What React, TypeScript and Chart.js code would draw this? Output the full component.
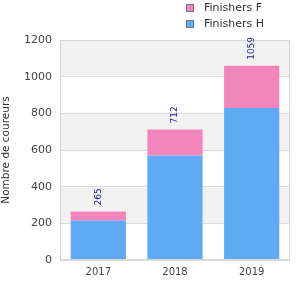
import React, { useEffect, useRef } from "react";
import { Chart, registerables } from "chart.js";

Chart.register(...registerables);

const categories = ["2017", "2018", "2019"];
const finishersH = [215, 570, 829];
const finishersF = [50, 142, 230];
const yTicks = [0, 200, 400, 600, 800, 1000, 1200];
const seriesNames = ["Finishers H", "Finishers F"];

const BLUE = "#60a9f5";
const PINK = "#f285bc";

export default function App() {
  const ref = useRef<HTMLCanvasElement | null>(null);

  useEffect(() => {
    if (!ref.current) return;
    const bandsPlugin = {
      id: "bands",
      beforeDraw(chart: any) {
        const { ctx, chartArea } = chart;
        const y = chart.scales.y;
        ctx.save();
        ctx.fillStyle = "#ffffff";
        ctx.fillRect(chartArea.left, chartArea.top, chartArea.right - chartArea.left, chartArea.bottom - chartArea.top);
        ctx.fillStyle = "#f2f2f2";
        for (let i = 1; i < yTicks.length - 1; i += 2) {
          const top = y.getPixelForValue(yTicks[i + 1]);
          const bottom = y.getPixelForValue(yTicks[i]);
          ctx.fillRect(chartArea.left, top, chartArea.right - chartArea.left, bottom - top);
        }
        ctx.restore();
      },
      afterDatasetsDraw(chart: any) {
        const { ctx, chartArea } = chart;
        ctx.save();
        ctx.strokeStyle = "#d6d6d6";
        ctx.lineWidth = 1;
        ctx.strokeRect(chartArea.left + 0.5, chartArea.top + 0.5, chartArea.right - chartArea.left - 1, chartArea.bottom - chartArea.top - 1);
        const meta = chart.getDatasetMeta(chart.data.datasets.length - 1);
        ctx.fillStyle = "#1c1c8f";
        ctx.font = "9px 'DejaVu Sans'";
        ctx.textAlign = "left";
        ctx.textBaseline = "middle";
        categories.forEach((_, i) => {
          const total = finishersH[i] + finishersF[i];
          const bar = meta.data[i];
          const yy = chart.scales.y.getPixelForValue(total);
          ctx.save();
          ctx.translate(bar.x, yy - 6);
          ctx.rotate(-Math.PI / 2);
          ctx.fillText(String(total), 0, 0);
          ctx.restore();
        });
        ctx.restore();
      },
      afterDraw(chart: any) {
        const { ctx } = chart;
        ctx.save();
        const items = [
          { label: seriesNames[1], color: PINK },
          { label: seriesNames[0], color: BLUE },
        ];
        ctx.font = "11px 'DejaVu Sans'";
        ctx.textBaseline = "middle";
        ctx.textAlign = "left";
        items.forEach((it, k) => {
          const cy = 8 + k * 16;
          ctx.fillStyle = it.color;
          ctx.fillRect(186, cy - 4, 8, 8);
          ctx.strokeStyle = "#777777";
          ctx.lineWidth = 1;
          ctx.strokeRect(186.5, cy - 3.5, 7, 7);
          ctx.fillStyle = "#333333";
          ctx.fillText(it.label, 204, cy);
        });
        ctx.restore();
      },
    };

    const chart = new Chart(ref.current, {
      type: "bar",
      data: {
        labels: categories,
        datasets: [
          { label: seriesNames[0], data: finishersH, backgroundColor: BLUE, borderWidth: 0 },
          { label: seriesNames[1], data: finishersF, backgroundColor: PINK, borderWidth: 0 },
        ],
      },
      options: {
        animation: false,
        responsive: false,
        layout: { padding: { left: 0, right: 10, top: 40, bottom: 0 } },
        plugins: { legend: { display: false }, tooltip: { enabled: false } },
        datasets: { bar: { categoryPercentage: 1, barPercentage: 0.72 } },
        scales: {
          x: {
            stacked: true,
            grid: { display: false, drawTicks: false },
            border: { display: false },
            ticks: { color: "#444444", font: { family: "DejaVu Sans", size: 10 }, padding: 6 },
            afterFit(s: any) { s.height = 40; },
          },
          y: {
            stacked: true,
            min: 0,
            max: 1200,
            afterBuildTicks(s: any) { s.ticks = yTicks.map((v) => ({ value: v })); },
            grid: { color: "#dcdcdc", drawTicks: false },
            border: { display: false },
            ticks: {
              color: "#444444",
              font: { family: "DejaVu Sans", size: 11 },
              padding: 8,
              callback: (v: any) => String(v),
            },
            title: {
              display: true,
              text: "Nombre de coureurs",
              color: "#333333",
              font: { family: "DejaVu Sans", size: 10.5 },
              padding: { top: 0, bottom: 0 },
            },
            afterFit(s: any) { s.width = 60; },
          },
        },
      },
      plugins: [bandsPlugin],
    } as any);
    return () => chart.destroy();
  }, []);

  return (
    <div style={{ position: "absolute", left: 0, top: 0, width: 300, height: 300, background: "#fff" }}>
      <canvas ref={ref} width={300} height={300} style={{ display: "block" }} />
    </div>
  );
}
